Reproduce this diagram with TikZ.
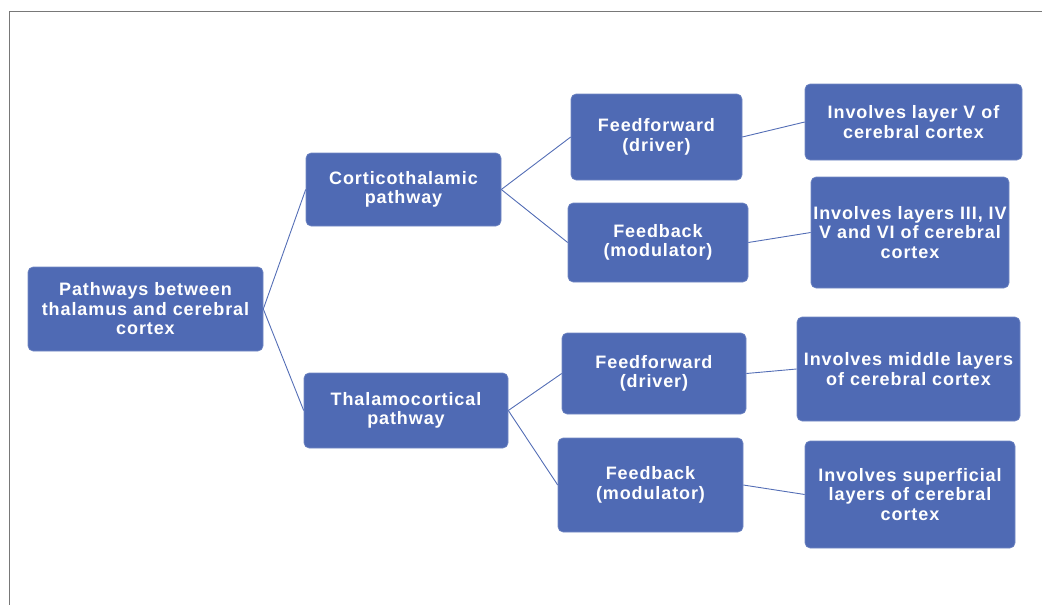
\documentclass[tikz,border=0pt]{standalone}
\usepackage{fontspec}
\setmainfont{Liberation Sans}
\newfontfamily\boxfont[LetterSpace=5]{Liberation Sans}
\definecolor{boxblue}{RGB}{79,106,180}
\definecolor{lineblue}{RGB}{84,110,182}
\definecolor{framegray}{RGB}{120,120,120}
\begin{document}
\begin{tikzpicture}[x=1pt,y=-1pt,
  box/.style={draw=boxblue!80!white, line width=0.6pt, fill=boxblue, rounded corners=5pt,
    text=white, font=\boxfont\bfseries\fontsize{18}{19.5}\selectfont, align=center, inner sep=0pt},
  link/.style={draw=lineblue, line width=0.9pt}]
\useasboundingbox (0,0) rectangle (1042,605);
\coordinate (ftr) at (1042,11.5);
\coordinate (ftl) at (9.5,11.5);
\coordinate (fbl) at (9.5,605);
\draw[framegray, line width=1.2pt] (ftr) -- (ftl) -- (fbl);

\node[box, minimum width=235, minimum height=84] (root) at (145.5,309) {Pathways between\\thalamus and cerebral\\cortex};
\node[box, minimum width=195, minimum height=73] (ct) at (403.5,189.5) {Corticothalamic\\pathway};
\node[box, minimum width=204, minimum height=75] (tc) at (406,410.5) {Thalamocortical\\pathway};

\node[box, minimum width=171, minimum height=86] (ff1) at (656.5,137) {Feedforward\\(driver)};
\node[box, minimum width=180, minimum height=79] (fb1) at (658,242.5) {Feedback\\(modulator)};
\node[box, minimum width=184, minimum height=81] (ff2) at (654,373.5) {Feedforward\\(driver)};
\node[box, minimum width=185, minimum height=94] (fb2) at (650.5,485) {Feedback\\(modulator)};

\node[box, minimum width=217, minimum height=76] (l1) at (913.5,122) {Involves layer V of\\cerebral cortex};
\node[box, minimum width=198, minimum height=111] (l2) at (910,232.5) {Involves layers III, IV\\V and VI of cerebral\\cortex};
\node[box, minimum width=223, minimum height=104] (l3) at (908.5,369) {Involves middle layers\\of cerebral cortex};
\node[box, minimum width=210, minimum height=107] (l4) at (910,494.5) {Involves superficial\\layers of cerebral\\cortex};

\draw[link] (root.east) -- (ct.west);
\draw[link] (root.east) -- (tc.west);
\draw[link] (ct.east) -- (ff1.west);
\draw[link] (ct.east) -- (fb1.west);
\draw[link] (tc.east) -- (ff2.west);
\draw[link] (tc.east) -- (fb2.west);
\draw[link] (ff1.east) -- (l1.west);
\draw[link] (fb1.east) -- (l2.west);
\draw[link] (ff2.east) -- (l3.west);
\draw[link] (fb2.east) -- (l4.west);
\end{tikzpicture}
\end{document}
